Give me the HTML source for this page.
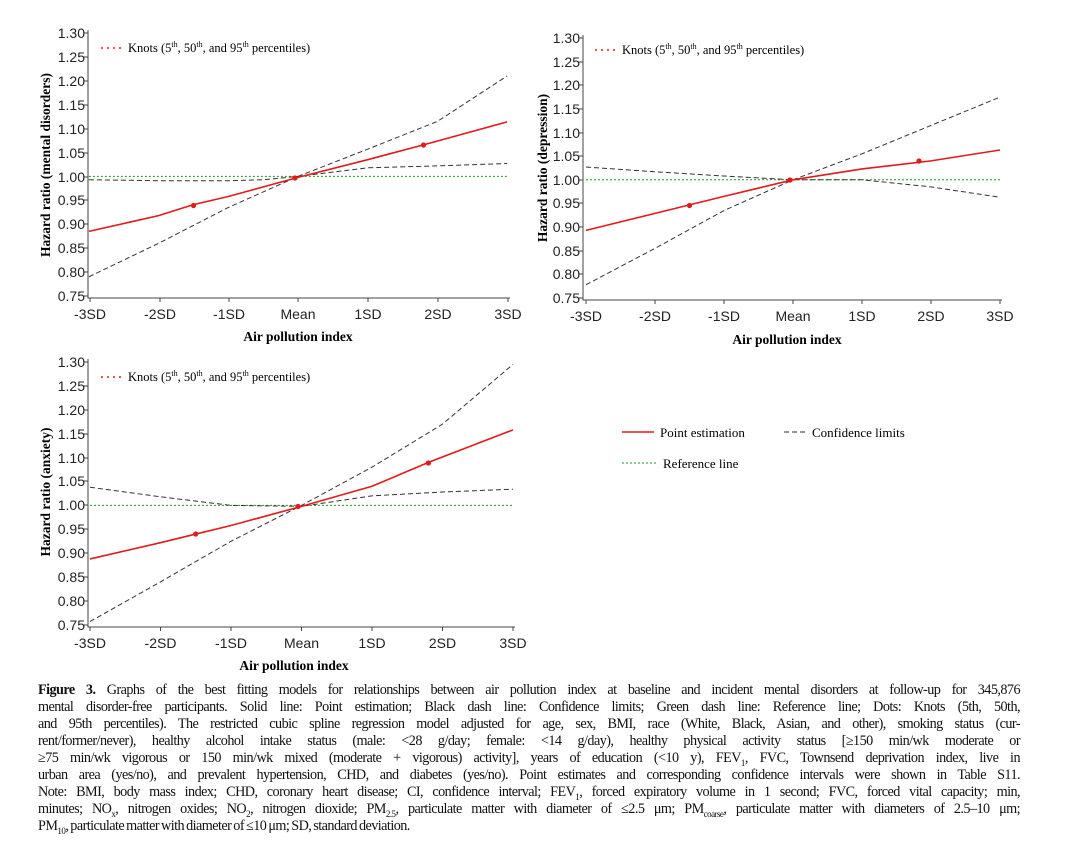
<!DOCTYPE html>
<html><head><meta charset="utf-8"><style>
body{margin:0;background:#fff;width:1071px;height:842px;overflow:hidden;position:relative}
svg{position:absolute;left:0;top:0}
.cap{position:absolute;left:38px;width:982px;font-family:"Liberation Serif",serif;font-size:14.2px;letter-spacing:-0.55px;word-spacing:-1px;white-space:nowrap;text-align:justify;text-align-last:justify;line-height:17px;color:#111}
</style></head><body>
<svg width="1071" height="842" font-family="Liberation Sans, sans-serif">
<!-- Chart 1 -->
<g stroke="#444" stroke-width="1" fill="none">
<path d="M88 30V298H510"/>
<path d="M84 33H88M84 57H88M84 81H88M84 105H88M84 129H88M84 153H88M84 177H88M84 200H88M84 224H88M84 248H88M84 272H88M84 296H88"/>
<path d="M90 298v4M160 298v4M229 298v4M298 298v4M368 298v4M438 298v4M508 298v4"/>
</g>
<g font-size="14" fill="#222" text-anchor="end">
<text x="85" y="38">1.30</text><text x="85" y="62">1.25</text><text x="85" y="86">1.20</text><text x="85" y="110">1.15</text><text x="85" y="134">1.10</text><text x="85" y="158">1.05</text><text x="85" y="182">1.00</text><text x="85" y="205">0.95</text><text x="85" y="229">0.90</text><text x="85" y="253">0.85</text><text x="85" y="277">0.80</text><text x="85" y="301">0.75</text>
</g>
<g font-size="14" fill="#222" text-anchor="middle">
<text x="90" y="319">-3SD</text><text x="160" y="319">-2SD</text><text x="229" y="319">-1SD</text><text x="298" y="319">Mean</text><text x="368" y="319">1SD</text><text x="438" y="319">2SD</text><text x="508" y="319">3SD</text>
</g>
<text x="298" y="341" font-family="Liberation Serif,serif" font-weight="bold" font-size="13.5" text-anchor="middle">Air pollution index</text>
<text transform="translate(50,165) rotate(-90)" font-family="Liberation Serif,serif" font-weight="bold" font-size="13.5" text-anchor="middle">Hazard ratio (mental disorders)</text>
<g transform="translate(298,654.4) scale(69.7,-478)" fill="none">
<path vector-effect="non-scaling-stroke" stroke="#1f9a1f" stroke-width="1" stroke-dasharray="2,2" d="M-3 1H3"/>
<path vector-effect="non-scaling-stroke" stroke="#333" stroke-dasharray="5,3" d="M-3 0.993L-2 0.991L-1 0.991L-0.5 0.993L0 1L1 1.018L2 1.022L3 1.027"/>
<path vector-effect="non-scaling-stroke" stroke="#333" stroke-dasharray="5,3" d="M-3 0.79L-2 0.86L-1 0.935L0 1L1 1.057L2 1.115L3 1.21"/>
<path vector-effect="non-scaling-stroke" stroke="#e41a1a" stroke-width="1.6" d="M-3 0.885L-2 0.918L-1.5 0.941L-1 0.958L0 0.998L1 1.035L1.8 1.066L3 1.114"/>
</g>
<g fill="#e41a1a"><circle cx="193.5" cy="205.5" r="2.6"/><circle cx="295" cy="178" r="2.6"/><circle cx="423.5" cy="145" r="2.6"/></g>
<path d="M101 48H124" stroke="#e41a1a" stroke-width="1.6" stroke-dasharray="2,4"/>
<text x="128" y="52" font-family="Liberation Serif,serif" font-size="12.5">Knots (5<tspan font-size="8" dy="-5">th</tspan><tspan dy="5">, 50</tspan><tspan font-size="8" dy="-5">th</tspan><tspan dy="5">, and 95</tspan><tspan font-size="8" dy="-5">th</tspan><tspan dy="5"> percentiles)</tspan></text>

<!-- Chart 2 -->
<g stroke="#444" stroke-width="1" fill="none">
<path d="M583 35V300H1002"/>
<path d="M579 38H583M579 62H583M579 85H583M579 109H583M579 133H583M579 156H583M579 180H583M579 203H583M579 227H583M579 251H583M579 274H583M579 298H583"/>
<path d="M586 300v4M655 300v4M724 300v4M793 300v4M862 300v4M931 300v4M1000 300v4"/>
</g>
<g font-size="14" fill="#222" text-anchor="end">
<text x="580" y="43">1.30</text><text x="580" y="67">1.25</text><text x="580" y="90">1.20</text><text x="580" y="114">1.15</text><text x="580" y="138">1.10</text><text x="580" y="161">1.05</text><text x="580" y="185">1.00</text><text x="580" y="208">0.95</text><text x="580" y="232">0.90</text><text x="580" y="256">0.85</text><text x="580" y="279">0.80</text><text x="580" y="303">0.75</text>
</g>
<g font-size="14" fill="#222" text-anchor="middle">
<text x="586" y="321">-3SD</text><text x="655" y="321">-2SD</text><text x="724" y="321">-1SD</text><text x="793" y="321">Mean</text><text x="862" y="321">1SD</text><text x="931" y="321">2SD</text><text x="1000" y="321">3SD</text>
</g>
<text x="787" y="344" font-family="Liberation Serif,serif" font-weight="bold" font-size="13.5" text-anchor="middle">Air pollution index</text>
<text transform="translate(547,168) rotate(-90)" font-family="Liberation Serif,serif" font-weight="bold" font-size="13.5" text-anchor="middle">Hazard ratio (depression)</text>
<g transform="translate(793,652.5) scale(69,-472.7)" fill="none">
<path vector-effect="non-scaling-stroke" stroke="#1f9a1f" stroke-width="1" stroke-dasharray="2,2" d="M-3 1H3"/>
<path vector-effect="non-scaling-stroke" stroke="#333" stroke-dasharray="5,3" d="M-3 1.027L-2 1.017L-1 1.008L0 1L1 1.0L2 0.985L3 0.963"/>
<path vector-effect="non-scaling-stroke" stroke="#333" stroke-dasharray="5,3" d="M-3 0.778L-2 0.855L-1 0.935L0 1L1 1.055L2 1.115L3 1.175"/>
<path vector-effect="non-scaling-stroke" stroke="#e41a1a" stroke-width="1.6" d="M-3 0.893L-2 0.929L-1.5 0.947L-1 0.965L0 1L1 1.023L2 1.04L3 1.063"/>
</g>
<g fill="#e41a1a"><circle cx="689.5" cy="205.5" r="2.6"/><circle cx="790" cy="180" r="2.6"/><circle cx="919" cy="161" r="2.6"/></g>
<path d="M595 50H618" stroke="#e41a1a" stroke-width="1.6" stroke-dasharray="2,4"/>
<text x="622" y="54" font-family="Liberation Serif,serif" font-size="12.5">Knots (5<tspan font-size="8" dy="-5">th</tspan><tspan dy="5">, 50</tspan><tspan font-size="8" dy="-5">th</tspan><tspan dy="5">, and 95</tspan><tspan font-size="8" dy="-5">th</tspan><tspan dy="5"> percentiles)</tspan></text>

<!-- Chart 3 -->
<g stroke="#444" stroke-width="1" fill="none">
<path d="M88 359V627H515"/>
<path d="M84 362H88M84 386H88M84 410H88M84 434H88M84 458H88M84 481H88M84 505H88M84 529H88M84 553H88M84 577H88M84 601H88M84 625H88"/>
<path d="M90 627v4M160.5 627v4M231 627v4M301.5 627v4M372 627v4M442.5 627v4M513 627v4"/>
</g>
<g font-size="14" fill="#222" text-anchor="end">
<text x="85" y="367">1.30</text><text x="85" y="391">1.25</text><text x="85" y="415">1.20</text><text x="85" y="439">1.15</text><text x="85" y="463">1.10</text><text x="85" y="486">1.05</text><text x="85" y="510">1.00</text><text x="85" y="534">0.95</text><text x="85" y="558">0.90</text><text x="85" y="582">0.85</text><text x="85" y="606">0.80</text><text x="85" y="630">0.75</text>
</g>
<g font-size="14" fill="#222" text-anchor="middle">
<text x="90" y="648">-3SD</text><text x="160.5" y="648">-2SD</text><text x="231" y="648">-1SD</text><text x="301.5" y="648">Mean</text><text x="372" y="648">1SD</text><text x="442.5" y="648">2SD</text><text x="513" y="648">3SD</text>
</g>
<text x="294" y="670" font-family="Liberation Serif,serif" font-weight="bold" font-size="13.5" text-anchor="middle">Air pollution index</text>
<text transform="translate(50,492) rotate(-90)" font-family="Liberation Serif,serif" font-weight="bold" font-size="13.5" text-anchor="middle">Hazard ratio (anxiety)</text>
<g transform="translate(301.5,983.4) scale(70.5,-478)" fill="none">
<path vector-effect="non-scaling-stroke" stroke="#1f9a1f" stroke-width="1" stroke-dasharray="2,2" d="M-3 1H3"/>
<path vector-effect="non-scaling-stroke" stroke="#333" stroke-dasharray="5,3" d="M-3 1.038L-2 1.018L-1 1.0L0 0.998L1 1.02L2 1.028L3 1.034"/>
<path vector-effect="non-scaling-stroke" stroke="#333" stroke-dasharray="5,3" d="M-3 0.757L-2 0.84L-1 0.925L0 1L1 1.08L2 1.17L3 1.295"/>
<path vector-effect="non-scaling-stroke" stroke="#e41a1a" stroke-width="1.6" d="M-3 0.888L-2 0.922L-1.5 0.94L-1 0.958L0 0.998L1 1.04L1.8 1.09L3 1.158"/>
</g>
<g fill="#e41a1a"><circle cx="195.7" cy="534" r="2.6"/><circle cx="298" cy="506.5" r="2.6"/><circle cx="428.4" cy="463" r="2.6"/></g>
<path d="M101 377H124" stroke="#e41a1a" stroke-width="1.6" stroke-dasharray="2,4"/>
<text x="128" y="381" font-family="Liberation Serif,serif" font-size="12.5">Knots (5<tspan font-size="8" dy="-5">th</tspan><tspan dy="5">, 50</tspan><tspan font-size="8" dy="-5">th</tspan><tspan dy="5">, and 95</tspan><tspan font-size="8" dy="-5">th</tspan><tspan dy="5"> percentiles)</tspan></text>

<!-- Legend -->
<path d="M622 432H654" stroke="#e41a1a" stroke-width="1.6"/>
<text x="660" y="437" font-family="Liberation Serif,serif" font-size="13">Point estimation</text>
<path d="M784 432H808" stroke="#333" stroke-dasharray="5,3"/>
<text x="812" y="437" font-family="Liberation Serif,serif" font-size="13">Confidence limits</text>
<path d="M622 463H656" stroke="#1f9a1f" stroke-dasharray="2,2"/>
<text x="663" y="468" font-family="Liberation Serif,serif" font-size="13">Reference line</text>
</svg>
<div class="cap" style="top:682px"><b>Figure 3.</b> Graphs of the best fitting models for relationships between air pollution index at baseline and incident mental disorders at follow-up for 345,876</div>
<div class="cap" style="top:699px">mental disorder-free participants. Solid line: Point estimation; Black dash line: Confidence limits; Green dash line: Reference line; Dots: Knots (5th, 50th,</div>
<div class="cap" style="top:716px">and 95th percentiles). The restricted cubic spline regression model adjusted for age, sex, BMI, race (White, Black, Asian, and other), smoking status (cur-</div>
<div class="cap" style="top:733px">rent/former/never), healthy alcohol intake status (male: &lt;28 g/day; female: &lt;14 g/day), healthy physical activity status [≥150 min/wk moderate or</div>
<div class="cap" style="top:750px">≥75 min/wk vigorous or 150 min/wk mixed (moderate + vigorous) activity], years of education (&lt;10 y), FEV<sub style="font-size:9px">1</sub>, FVC, Townsend deprivation index, live in</div>
<div class="cap" style="top:767px">urban area (yes/no), and prevalent hypertension, CHD, and diabetes (yes/no). Point estimates and corresponding confidence intervals were shown in Table S11.</div>
<div class="cap" style="top:784px">Note: BMI, body mass index; CHD, coronary heart disease; CI, confidence interval; FEV<sub style="font-size:9px">1</sub>, forced expiratory volume in 1 second; FVC, forced vital capacity; min,</div>
<div class="cap" style="top:801px">minutes; NO<sub style="font-size:9px">x</sub>, nitrogen oxides; NO<sub style="font-size:9px">2</sub>, nitrogen dioxide; PM<sub style="font-size:9px">2.5</sub>, particulate matter with diameter of ≤2.5 μm; PM<sub style="font-size:9px">coarse</sub>, particulate matter with diameters of 2.5–10 μm;</div>
<div class="cap" style="top:818px;text-align-last:left">PM<sub style="font-size:9px">10</sub>, particulate matter with diameter of ≤10 μm; SD, standard deviation.</div>
</body></html>
